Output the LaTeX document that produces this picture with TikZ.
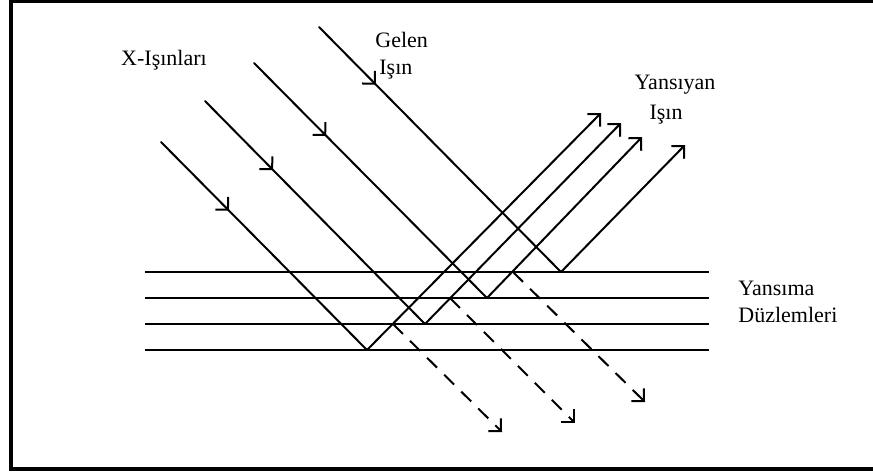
\documentclass[tikz,border=0pt]{standalone}
\usepackage{fontspec}
\setmainfont{Liberation Serif}
\usetikzlibrary{arrows.meta,decorations.markings}

\begin{document}
\begin{tikzpicture}[
  x=0.5pt, y=-0.5pt,
  font=\fontsize{11}{13}\selectfont,
  ucu/.tip={Straight Barb[length=4.5pt,width=9pt]},
  cerceve/.style={line width=1.8pt},
  duzlem/.style={line width=0.9pt},
  isin/.style={line width=1pt, line cap=round},
  gelen/.style={isin, postaction={decorate},
                decoration={markings, mark=at position #1 with {\arrow{ucu}}}},
  yansiyan/.style={isin, -ucu},
  gecen/.style={line width=1pt, dash pattern=on 7pt off 5pt, -ucu},
  etiket/.style={inner sep=0pt},
]
\useasboundingbox (0,0) rectangle (873,472);

% ---- Cerceve --------------------------------------------------------------
\draw[cerceve] (873,1.5) -- (11,1.5) -- (11,469) -- (873,469);

% ---- Yansima duzlemleri ----------------------------------------------------
\foreach \y in {272,298,324,350}
  \draw[duzlem] (145,\y) -- (709,\y);

% ---- Gelen isinlar ---------------------------------------------------------
\coordinate (s1) at (161,142);
\coordinate (s2) at (205,101);
\coordinate (s3) at (254,63);
\coordinate (s4) at (319,27);

\coordinate (a1) at (367,350);
\coordinate (a2) at (425,324);
\coordinate (a3) at (487,298);
\coordinate (a4) at (561,272);

\draw[gelen=0.33] (s1) -- (a1);
\draw[gelen=0.31] (s2) -- (a2);
\draw[gelen=0.31] (s3) -- (a3);
\draw[gelen=0.235] (s4) -- (a4);

% ---- Yansiyan isinlar ------------------------------------------------------
\coordinate (t1) at (601,113);
\coordinate (t2) at (621,123);
\coordinate (t3) at (642,137);
\coordinate (t4) at (685,145);

\draw[yansiyan] (a1) -- (t1);
\draw[yansiyan] (a2) -- (t2);
\draw[yansiyan] (a3) -- (t3);
\draw[yansiyan] (a4) -- (t4);

% ---- Gecen isinlar (kesikli) ----------------------------------------------
\coordinate (k1) at (393,324);
\coordinate (k2) at (450,298);
\coordinate (k3) at (513,272);

\coordinate (e1) at (502,432);
\coordinate (e2) at (575,423);
\coordinate (e3) at (645,402);

\draw[gecen] (k1) -- (e1);
\draw[gecen] (k2) -- (e2);
\draw[gecen] (k3) -- (e3);

% ---- Etiketler -------------------------------------------------------------
\node[etiket] (xisinlari) at (164,60) {X-Işınları};
\node[etiket, anchor=west] (gelen1) at (375,40) {Gelen};
\node[etiket, anchor=west] (gelen2) at (379,70) {Işın};
\node[etiket] (yansiyan1) at (675,85) {Yansıyan};
\node[etiket] (yansiyan2) at (666,115) {Işın};
\node[etiket, anchor=west] (duzlem1) at (738,288) {Yansıma};
\node[etiket, anchor=west] (duzlem2) at (738,315) {Düzlemleri};

\end{tikzpicture}
\end{document}
